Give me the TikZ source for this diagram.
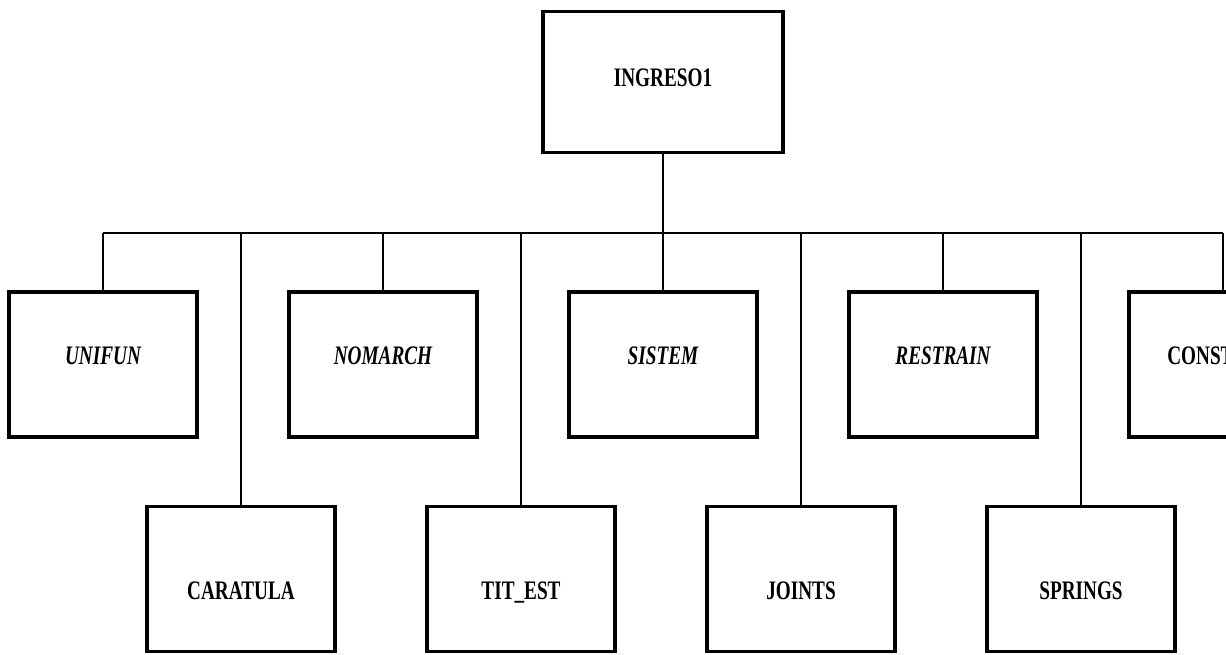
\documentclass[tikz,border=0pt]{standalone}
\usepackage{fontspec}
\newfontfamily\modfont[FakeStretch=0.72]{Liberation Serif}
\usetikzlibrary{positioning}

\begin{document}
\begin{tikzpicture}[
    modulo/.style={draw, rectangle, line width=2.6pt, outer sep=0pt, minimum width=4.7cm, minimum height=3.625cm, font=\modfont\bfseries\fontsize{19}{21}\selectfont},
    raiz/.style={modulo, minimum width=6cm, minimum height=3.525cm, text height=0.44cm, text depth=0.2cm},
    inclinado/.style={font=\modfont\bfseries\itshape\fontsize{19}{21}\selectfont},
    fila1/.style={text height=0.44cm, text depth=0.45cm},
    fila2/.style={text height=1cm, text depth=0pt},
    enlace/.style={line width=1.3pt}]
    \useasboundingbox (0,0) rectangle (30.65,-16.375);
    \clip (0,0) rectangle (30.65,-16.375);

    \node (ingreso) [raiz] at (16.575,-2.05) {INGRESO1};
    \coordinate (bus) at (0,-5.825);

    % primera fila
    \node (unifun) [modulo, fila1, inclinado] at (2.575,-9.1125) {UNIFUN};
    \node (nomarch) [modulo, fila1, inclinado, right=2.3cm of unifun] {NOMARCH};
    \node (sistem) [modulo, fila1, inclinado, right=2.3cm of nomarch] {SISTEM};
    \node (restrain) [modulo, fila1, inclinado, right=2.3cm of sistem] {RESTRAIN};
    \node (const) [modulo, fila1, right=2.3cm of restrain] {};
    \node (constlbl) [fila1, anchor=west, inner xsep=0pt, font=\modfont\bfseries\fontsize{19}{21}\selectfont] at ([xshift=0.95cm]const.west) {CONST};

    % segunda fila
    \node (caratula) [modulo, fila2] at (6.025,-14.475) {CARATULA};
    \node (titest) [modulo, fila2, right=2.3cm of caratula] {TIT\_EST};
    \node (joints) [modulo, fila2, right=2.3cm of titest] {JOINTS};
    \node (springs) [modulo, fila2, right=2.3cm of joints] {SPRINGS};

    \draw [enlace] (ingreso.south) -- (ingreso.south |- bus);
    \draw [enlace] (bus -| unifun.north) -- (bus -| const.north);
    \foreach \m in {unifun, nomarch, sistem, restrain, const, caratula, titest, joints, springs}
        \draw [enlace] (bus -| \m.north) -- (\m.north);
\end{tikzpicture}
\end{document}
